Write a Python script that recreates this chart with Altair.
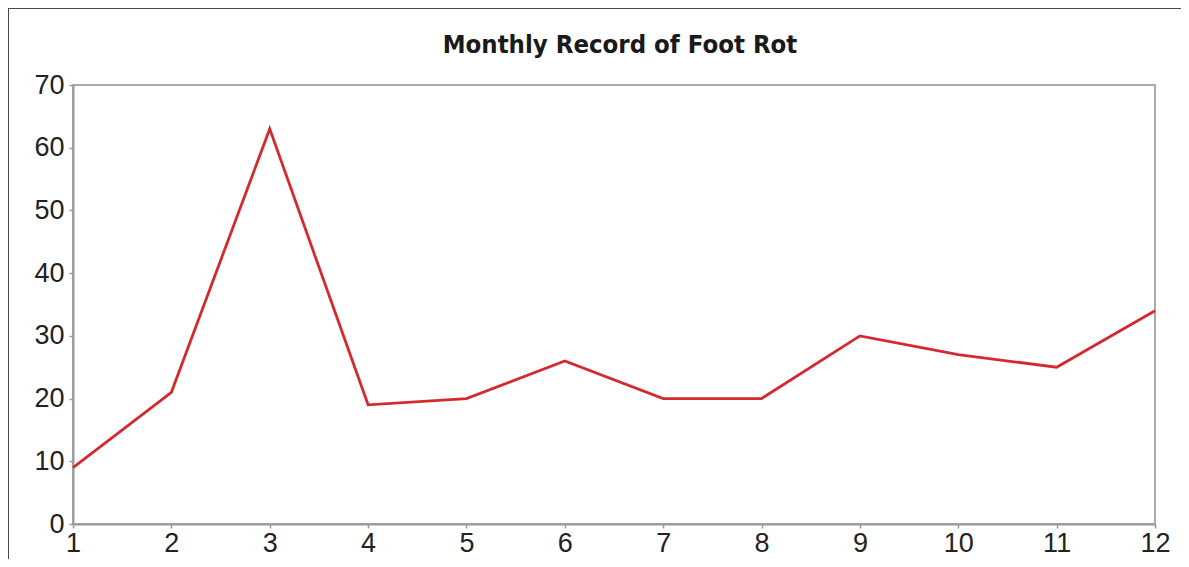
import altair as alt
import pandas as pd

months = [1, 2, 3, 4, 5, 6, 7, 8, 9, 10, 11, 12]
cases = [9, 21, 63, 19, 20, 26, 20, 20, 30, 27, 25, 34]
y_ticks = [0, 10, 20, 30, 40, 50, 60, 70]
title_text = ["Monthly Record of Foot Rot"]

df = pd.DataFrame({"month": months, "cases": cases})
tdf = pd.DataFrame({"t": title_text})

axis_common = dict(title=None, grid=False,
                   domainColor="#999999", domainWidth=2,
                   tickColor="#999999", tickSize=4, tickWidth=1.5,
                   labelFontSize=27, labelColor="#222222",
                   labelFont="Liberation Sans")

line = alt.Chart(df).mark_line(color="#d42a2f", strokeWidth=2.8).encode(
    x=alt.X("month:Q",
            scale=alt.Scale(domain=[1, 12], nice=False, zero=False),
            axis=alt.Axis(values=months, labelPadding=2, labelFlush=False,
                          **axis_common)),
    y=alt.Y("cases:Q",
            scale=alt.Scale(domain=[0, 70], nice=False),
            axis=alt.Axis(values=y_ticks, labelPadding=5, **axis_common)),
)

frame_top = alt.Chart(df).mark_rule(color="#4a4a4a", strokeWidth=2).encode(
    x=alt.value(-65), x2=alt.value(1120), y=alt.value(-77)
)
frame_left = alt.Chart(df).mark_rule(color="#4a4a4a", strokeWidth=2).encode(
    x=alt.value(-65), y=alt.value(-77), y2=alt.value(480)
)

title = alt.Chart(tdf).mark_text(
    font="DejaVu Sans Condensed, Liberation Sans", fontSize=25.5,
    fontWeight="bold", color="#1a1a1a", align="center", baseline="middle"
).encode(text="t:N", x=alt.value(547), y=alt.value(-40))

chart = (frame_top + frame_left + line + title).properties(
    width=1082,
    height=439,
    autosize=alt.AutoSizeParams(type="none"),
    padding={"left": 65, "top": 77, "right": 26, "bottom": 35},
).configure_view(stroke="#aaaaaa", strokeWidth=2)

chart.save("out.html", embed_options={"renderer": "svg", "actions": False})
